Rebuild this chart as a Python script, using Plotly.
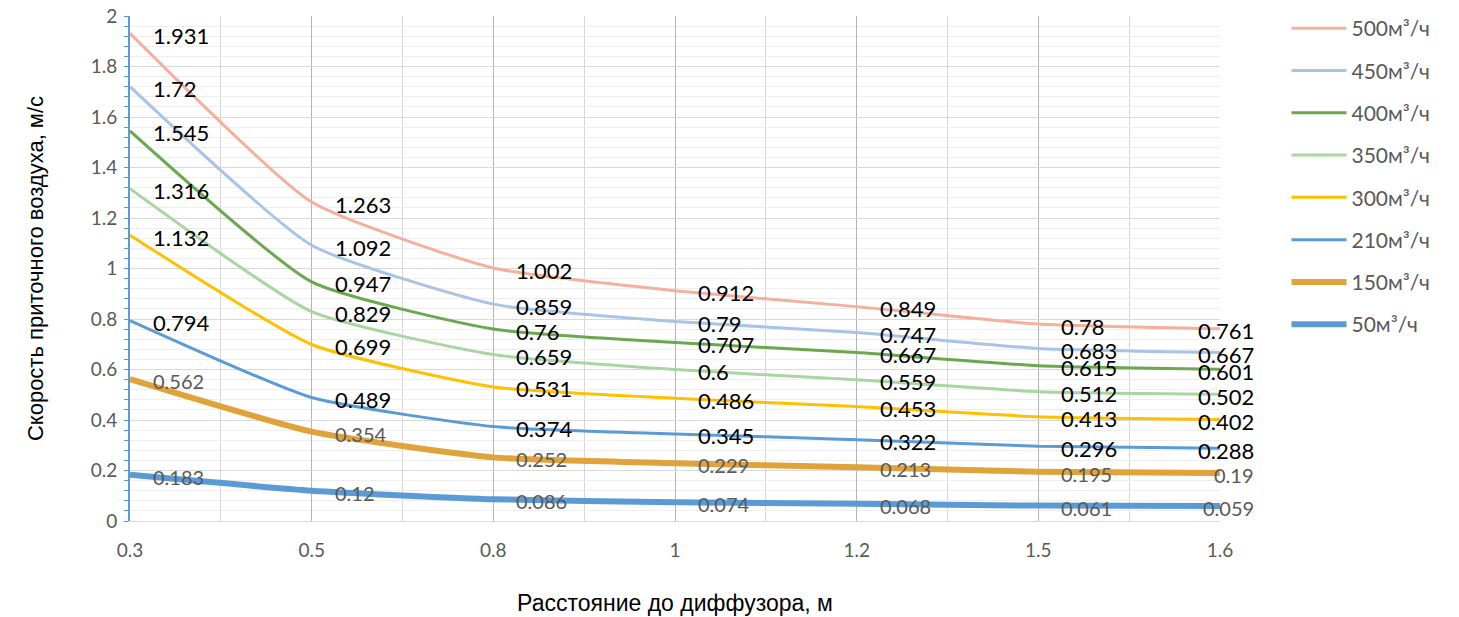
import plotly.graph_objects as go

# distance to diffuser (category labels on x axis)
distances = ["0.3", "0.5", "0.8", "1", "1.2", "1.5", "1.6"]

# air velocity, m/s, per flow rate
flows = ["500м³/ч", "450м³/ч", "400м³/ч", "350м³/ч",
         "300м³/ч", "210м³/ч", "150м³/ч", "50м³/ч"]
v500 = [1.931, 1.263, 1.002, 0.912, 0.849, 0.78, 0.761]
v450 = [1.72, 1.092, 0.859, 0.79, 0.747, 0.683, 0.667]
v400 = [1.545, 0.947, 0.76, 0.707, 0.667, 0.615, 0.601]
v350 = [1.316, 0.829, 0.659, 0.6, 0.559, 0.512, 0.502]
v300 = [1.132, 0.699, 0.531, 0.486, 0.453, 0.413, 0.402]
v210 = [0.794, 0.489, 0.374, 0.345, 0.322, 0.296, 0.288]
v150 = [0.562, 0.354, 0.252, 0.229, 0.213, 0.195, 0.19]
v50 = [0.183, 0.12, 0.086, 0.074, 0.068, 0.061, 0.059]

series = [v500, v450, v400, v350, v300, v210, v150, v50]

# styling per series
colors = ["#F4B09C", "#A9C3E6", "#6AA84F", "#A8D5A2",
          "#FFC000", "#5B9BD5", "#E0A23A", "#5B9BD5"]
widths = [3, 3, 3, 3, 3, 3, 6, 6]
label_colors = ["black"] * 6 + ["#595959"] * 2
label_sizes = [22] * 6 + [20] * 2

xs = list(range(len(distances)))

fig = go.Figure()

for name, vals, col, w in zip(flows, series, colors, widths):
    fig.add_trace(go.Scatter(
        x=xs, y=vals, name=name, mode="lines",
        line=dict(color=col, width=w, shape="spline", smoothing=0.5),
        legendgroup=name,
        hoverinfo="skip",
    ))

# data labels (Excel style: right of point, last column pulled inside)
for vals, lc, ls in zip(series, label_colors, label_sizes):
    for i, v in enumerate(vals):
        last = i == len(vals) - 1
        fig.add_annotation(
            x=xs[i], y=v, text=str(v), showarrow=False,
            xanchor="right" if last else "left",
            xshift=36 if last else 21, yshift=-2,
            font=dict(family="Lato", size=ls, color=lc),
        )

fig.update_layout(
    width=1459, height=617,
    margin=dict(l=130, r=239, t=16, b=96, autoexpand=False),
    paper_bgcolor="white", plot_bgcolor="white",
    font=dict(family="Lato", color="#595959"),
    showlegend=True,
    legend=dict(
        x=1.061, xanchor="left",
        yref="container", y=0.987, yanchor="top",
        font=dict(family="Lato", size=21, color="#595959"),
        tracegroupgap=12, itemwidth=55, maxheight=600,
        bgcolor="rgba(0,0,0,0)",
    ),
    xaxis=dict(
        automargin=False,
        range=[0, len(distances) - 1],
        tickvals=xs, ticktext=distances,
        showgrid=True, gridcolor="#B4B4B4", gridwidth=1,
        minor=dict(dtick=0.5, showgrid=True, gridcolor="#D6D6D6"),
        showline=True, linecolor="#D9D9D9", linewidth=1,
        ticks="", ticklabelstandoff=12,
        tickfont=dict(family="Lato", size=19, color="#595959"),
        zeroline=False,
        title=dict(text="Расстояние до диффузора, м", standoff=35,
                   font=dict(family="Liberation Sans", size=23, color="black")),
    ),
    yaxis=dict(
        automargin=False,
        range=[0, 2], dtick=0.2,
        showgrid=True, gridcolor="#D9D9D9", gridwidth=1,
        minor=dict(dtick=0.04, showgrid=True, gridcolor="#EEEEEE",
                   ticks="outside", ticklen=4, tickcolor="#5B9BD5"),
        showline=True, linecolor="#5B9BD5", linewidth=2,
        ticks="outside", ticklen=4, tickcolor="#5B9BD5",
        ticklabelstandoff=3, ticklabeloverflow="allow",
        tickfont=dict(family="Lato", size=19, color="#595959"),
        zeroline=False,
        title=dict(text="Скорость приточного воздуха, м/с", standoff=41,
                   font=dict(family="Liberation Sans", size=22, color="black")),
    ),
)

# drop the default page margin so the figure fills the window exactly
fig.write_html("out.html", config={"displayModeBar": False},
               post_script="document.body.style.margin='0';")
